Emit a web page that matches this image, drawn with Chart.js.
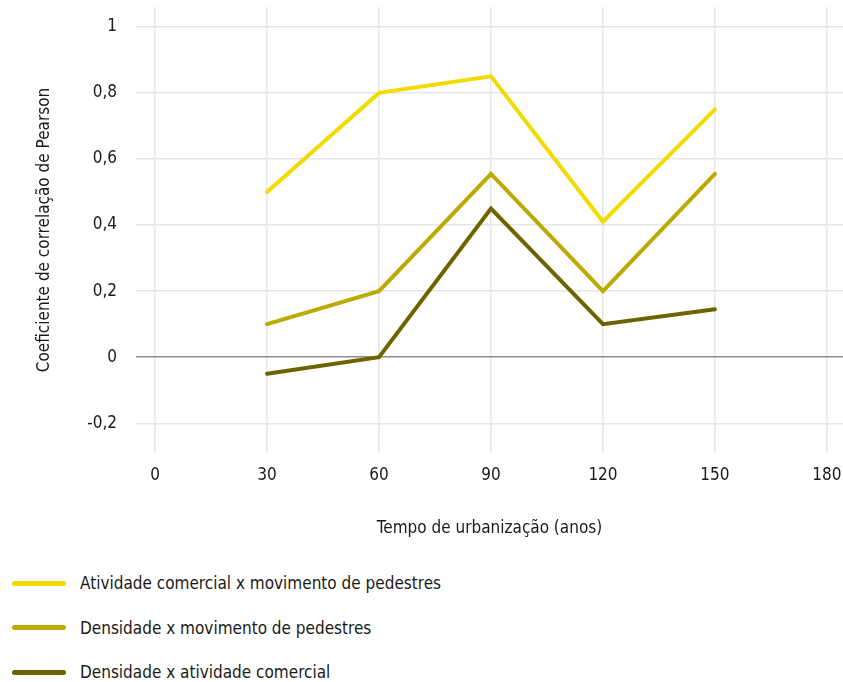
<!DOCTYPE html>
<html>
<head>
<meta charset="utf-8">
<script src="https://cdn.jsdelivr.net/npm/chart.js@4"></script>
<style>
  html, body { margin: 0; padding: 0; background: #fff; }
  #wrap { position: relative; width: 843px; height: 545px; }
  #legend { position: absolute; left: 0; top: 545px; width: 843px; font-family: "Liberation Sans Narrow", "DejaVu Sans Condensed", "Roboto", sans-serif; font-size: 17px; color: #1a1a1a; }
  .item { position: absolute; left: 12px; height: 30px; display: flex; align-items: center; }
  .sw { width: 54px; height: 5px; border-radius: 3px; margin-right: 14px; }
</style>
</head>
<body>
<div id="wrap"><canvas id="c" width="843" height="545"></canvas></div>
<div id="legend"></div>
<script>
const years = [30, 60, 90, 120, 150];
const seriesNames = [
  "Atividade comercial x movimento de pedestres",
  "Densidade x movimento de pedestres",
  "Densidade x atividade comercial"
];
const comercialPedestres = [0.50, 0.80, 0.85, 0.41, 0.75];
const densidadePedestres = [0.10, 0.20, 0.555, 0.20, 0.555];
const densidadeComercial = [-0.05, 0.00, 0.45, 0.10, 0.145];
const xTickValues = [0, 30, 60, 90, 120, 150, 180];
const yTickValues = [-0.2, 0, 0.2, 0.4, 0.6, 0.8, 1];
const colors = ["#f2dc00", "#bcaa00", "#6d6400"];
const xTitle = "Tempo de urbanização (anos)";
const yTitle = "Coeficiente de correlação de Pearson";

const FONT = "'Liberation Sans Narrow', 'DejaVu Sans Condensed', Roboto, sans-serif";
const allSeries = [comercialPedestres, densidadePedestres, densidadeComercial];
const datasets = allSeries.map((arr, i) => ({
  label: seriesNames[i],
  data: years.map((x, j) => ({ x: x, y: arr[j] })),
  borderColor: colors[i],
  backgroundColor: colors[i],
  borderWidth: 4,
  pointRadius: 0,
  tension: 0,
  fill: false,
  borderCapStyle: 'round'
}));
datasets.reverse();

function noPad(s) { s.paddingTop = 0; s.paddingBottom = 0; s.paddingLeft = 0; s.paddingRight = 0; }

new Chart(document.getElementById('c'), {
  type: 'line',
  data: { datasets: datasets },
  options: {
    responsive: false,
    animation: false,
    layout: { padding: { top: 7, right: 0, left: 0, bottom: 0 } },
    plugins: { legend: { display: false }, tooltip: { enabled: false } },
    scales: {
      x: {
        type: 'linear',
        min: -5.1, max: 184.3,
        afterBuildTicks: s => { s.ticks = xTickValues.map(v => ({ value: v })); },
        afterFit: s => { s.height = 92; noPad(s); },
        grid: { color: '#e6e6e6', lineWidth: 1.5, drawTicks: false },
        border: { display: false },
        ticks: { font: { family: FONT, size: 17 }, color: '#1a1a1a', padding: 12, maxRotation: 0 },
        title: { display: true, text: xTitle, font: { family: FONT, size: 17 }, color: '#1a1a1a', padding: { top: 0, bottom: 6 } }
      },
      y: {
        type: 'linear',
        min: -0.29, max: 1.06,
        afterBuildTicks: s => { s.ticks = yTickValues.map(v => ({ value: v })); },
        afterFit: s => { s.width = 136; noPad(s); },
        grid: {
          color: c => (c.tick && Math.abs(c.tick.value) < 1e-9) ? '#8c8c8c' : '#e6e6e6',
          lineWidth: 1.5, drawTicks: false
        },
        border: { display: false },
        ticks: {
          font: { family: FONT, size: 17 }, color: '#1a1a1a', padding: 19,
          callback: v => (Math.round(v * 10) / 10).toString().replace('.', ',')
        },
        title: { display: true, text: yTitle, font: { family: FONT, size: 17 }, color: '#1a1a1a', padding: { top: 34, bottom: 0 } }
      }
    }
  }
});

const lg = document.getElementById('legend');
seriesNames.forEach((name, i) => {
  const d = document.createElement('div');
  d.className = 'item';
  d.style.top = (23 + i * 44.5) + 'px';
  const sw = document.createElement('span');
  sw.className = 'sw';
  sw.style.background = colors[i];
  const t = document.createElement('span');
  t.textContent = name;
  d.appendChild(sw); d.appendChild(t);
  lg.appendChild(d);
});
</script>
</body>
</html>
